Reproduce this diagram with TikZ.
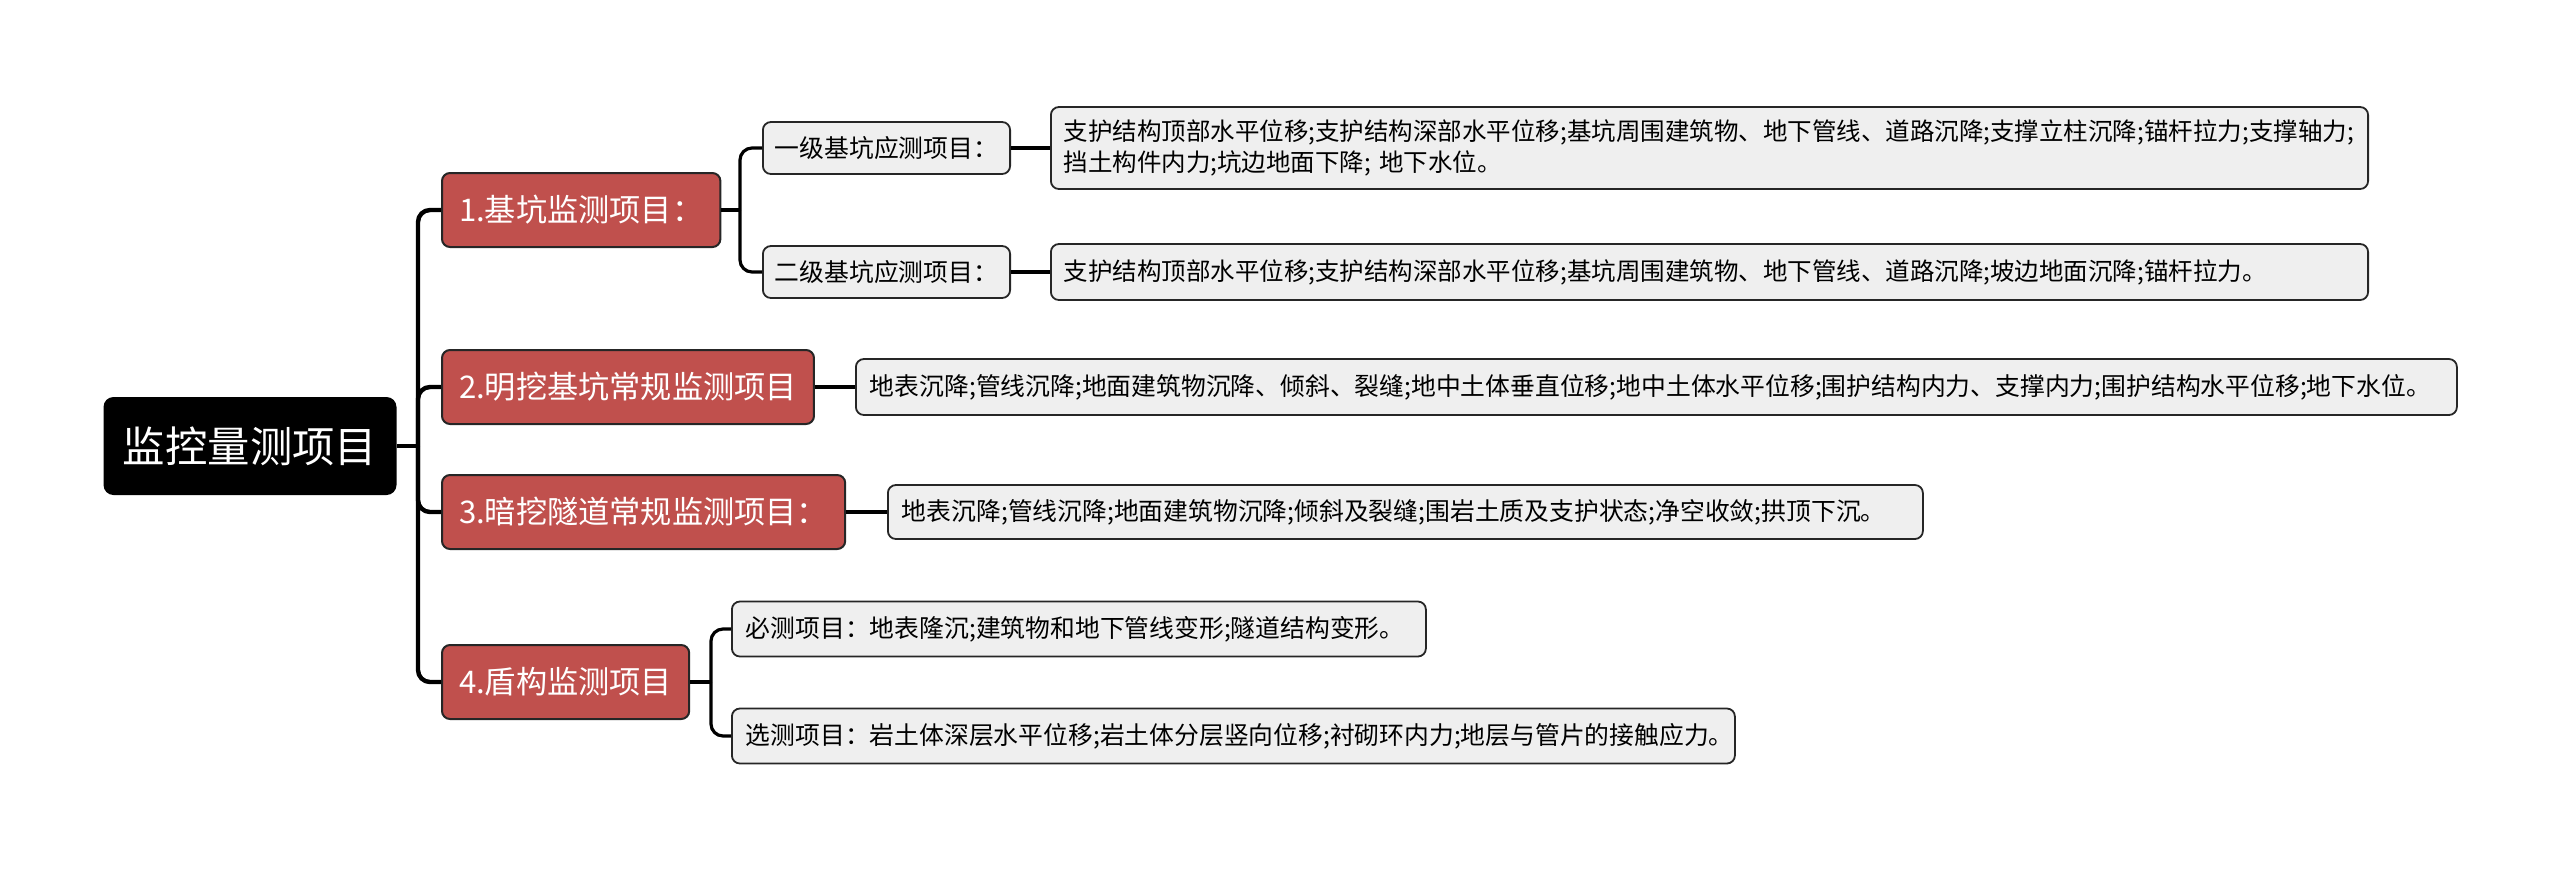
\documentclass[tikz,border=0pt]{standalone}
\usepackage{fontspec}
\setmainfont{Noto Sans CJK SC}
\definecolor{topicred}{HTML}{C0504D}
\definecolor{leafgray}{HTML}{EFEFEF}

\begin{document}
\begin{tikzpicture}[x=0.5pt,y=-0.5pt,
  rootbox/.style={fill=black,rounded corners=5pt,text=white,minimum width=146.5pt,minimum height=49pt,font=\fontsize{21.2}{25}\selectfont},
  topicbox/.style={draw=black!85,line width=1pt,fill=topicred,rounded corners=4pt,text=white,anchor=west,inner xsep=8.5pt,minimum height=37pt,font=\fontsize{15.6}{19}\selectfont},
  subbox/.style={draw=black!85,line width=0.9pt,fill=leafgray,rounded corners=4pt,anchor=west,inner xsep=6pt,minimum height=26pt,font=\fontsize{12.4}{15.5}\selectfont},
  leafbox/.style={subbox,align=left,inner xsep=7pt},
  trunk/.style={line width=2.2pt,rounded corners=6pt},
  twig/.style={line width=1.6pt,rounded corners=6pt}]

\useasboundingbox (0,0) rectangle (2560,869);

% Root
\node[rootbox] (root) at (250,446) {监控量测项目};

% Main topics
\node[topicbox] (k1) at (441,210) {1.基坑监测项目：};
\node[topicbox] (k2) at (441,387) {2.明挖基坑常规监测项目};
\node[topicbox] (k3) at (441,512) {3.暗挖隧道常规监测项目：};
\node[topicbox] (k4) at (441,682) {4.盾构监测项目};

% Sub topics
\node[subbox] (s1a) at (762,148) {一级基坑应测项目：};
\node[subbox] (s1b) at (762,272) {二级基坑应测项目：};

% Details
\node[leafbox,text width=646pt,inner xsep=6.3pt,minimum height=41pt,font=\fontsize{12.25}{15.5}\selectfont] (d1a) at (1050,148)
  {支护结构顶部水平位移;支护结构深部水平位移;基坑周围建筑物、地下管线、道路沉降;支撑立柱沉降;锚杆拉力;支撑轴力;\\挡土构件内力;坑边地面下降; 地下水位。};
\node[leafbox,text width=646pt,inner xsep=6.3pt,minimum height=28pt,font=\fontsize{12.25}{15.5}\selectfont] (d1b) at (1050,272)
  {支护结构顶部水平位移;支护结构深部水平位移;基坑周围建筑物、地下管线、道路沉降;坡边地面沉降;锚杆拉力。};
\node[leafbox,text width=786.5pt,minimum height=28pt] (d2) at (855,387)
  {地表沉降;管线沉降;地面建筑物沉降、倾斜、裂缝;地中土体垂直位移;地中土体水平位移;围护结构内力、支撑内力;围护结构水平位移;地下水位。};
\node[leafbox,text width=503.5pt,minimum height=27pt] (d3) at (887,512)
  {地表沉降;管线沉降;地面建筑物沉降;倾斜及裂缝;围岩土质及支护状态;净空收敛;拱顶下沉。};
\node[leafbox,text width=333pt,minimum height=27.5pt] (d4a) at (731,629)
  {必测项目：地表隆沉;建筑物和地下管线变形;隧道结构变形。};
\node[leafbox,text width=487.5pt,minimum height=27.5pt] (d4b) at (731,736)
  {选测项目：岩土体深层水平位移;岩土体分层竖向位移;衬砌环内力;地层与管片的接触应力。};

% Connectors from the root
\coordinate (rootfork) at (418,446);
\draw[trunk] (root.east) -- (rootfork);
\foreach \k in {k1,k2,k3,k4}
  \draw[trunk] (rootfork) |- (\k.west);

% Connectors of topic 1
\coordinate (k1fork) at (740,210);
\draw[twig] (k1.east) -- (k1fork);
\draw[twig] (k1fork) |- (s1a.west);
\draw[twig] (k1fork) |- (s1b.west);
\draw[twig] (s1a.east) -- (d1a.west);
\draw[twig] (s1b.east) -- (d1b.west);

% Connectors of topics 2 and 3
\draw[twig] (k2.east) -- (d2.west);
\draw[twig] (k3.east) -- (d3.west);

% Connectors of topic 4
\coordinate (k4fork) at (711,682);
\draw[twig] (k4.east) -- (k4fork);
\draw[twig] (k4fork) |- (d4a.west);
\draw[twig] (k4fork) |- (d4b.west);
\end{tikzpicture}
\end{document}
